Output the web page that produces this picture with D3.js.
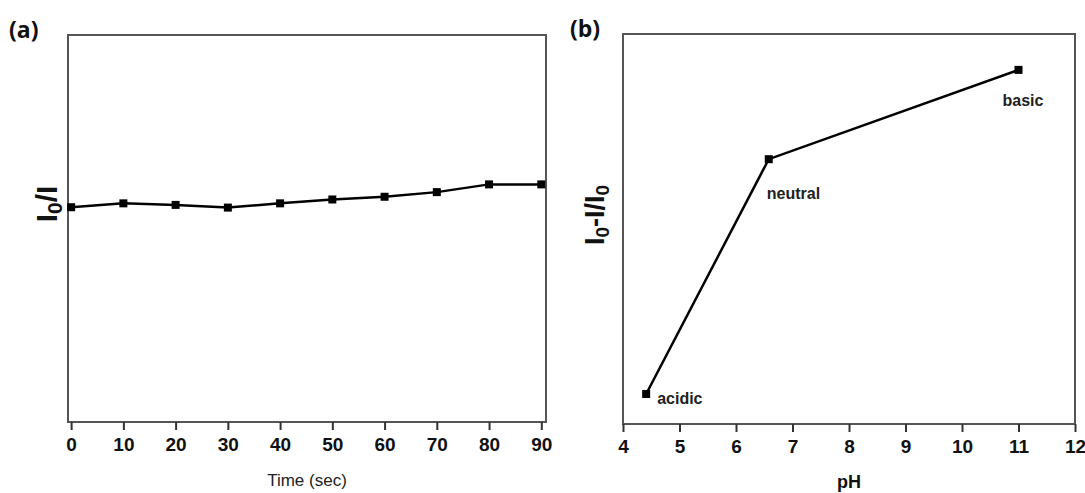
<!DOCTYPE html>
<html>
<head>
<meta charset="utf-8">
<script src="https://cdn.jsdelivr.net/npm/d3@7"></script>
<style>
  body { margin: 0; background: white; }
  svg { display: block; }
</style>
</head>
<body>
<div id="chart"></div>
<script>

// panel (a) - quenching vs time
var time_sec = [0, 10, 20, 30, 40, 50, 60, 70, 80, 90];
var ratio_a = [0.555, 0.565, 0.561, 0.554, 0.565, 0.575, 0.582, 0.594, 0.614, 0.614];
var time_ticks = [0, 10, 20, 30, 40, 50, 60, 70, 80, 90];

// panel (b) - response vs pH
var ph_vals = [4.41, 6.58, 11.0];
var ratio_b = [0.077, 0.679, 0.908];
var ph_names = ['acidic', 'neutral', 'basic'];
var ph_ticks = [4, 5, 6, 7, 8, 9, 10, 11, 12];

var width = 1085;
var height = 493;

var svg = d3.select('#chart')
  .append('svg')
  .attr('width', width)
  .attr('height', height);

svg.append('rect')
  .attr('width', width)
  .attr('height', height)
  .style('fill', 'white');

var frame_color = '#555';
var tick_font = '"Liberation Sans", Arial, sans-serif';

function make_panel(opts){

  var g = svg.append('g');

  // frame
  g.append('rect')
    .attr('x', opts.left)
    .attr('y', opts.top)
    .attr('width', opts.right - opts.left)
    .attr('height', opts.bottom - opts.top)
    .style('fill', 'none')
    .style('stroke', frame_color)
    .style('stroke-width', 2);

  var x_axis = d3.axisBottom(opts.x)
    .tickValues(opts.ticks)
    .tickSize(8)
    .tickPadding(8)
    .tickFormat(d3.format('d'));

  var axis_g = g.append('g')
    .attr('transform', 'translate(0,' + opts.bottom + ')')
    .call(x_axis);

  axis_g.select('.domain').remove();
  axis_g.selectAll('.tick line')
    .style('stroke', '#333')
    .style('stroke-width', 2);
  axis_g.selectAll('.tick text')
    .style('font-family', tick_font)
    .style('font-weight', 'bold')
    .style('font-size', '19px')
    .style('fill', '#111');

  var line = d3.line()
    .x(function(d){ return opts.x(d[0]); })
    .y(function(d){ return opts.y(d[1]); });

  var pts = opts.xs.map(function(d, i){ return [d, opts.ys[i]]; });

  g.append('path')
    .datum(pts)
    .attr('d', line)
    .style('fill', 'none')
    .style('stroke', '#000')
    .style('stroke-width', 2.5);

  var ms = opts.marker;
  g.selectAll('rect.marker')
    .data(pts)
    .enter()
    .append('rect')
    .classed('marker', true)
    .attr('x', function(d){ return opts.x(d[0]) - ms / 2; })
    .attr('y', function(d){ return opts.y(d[1]) - ms / 2; })
    .attr('width', ms)
    .attr('height', ms)
    .style('fill', '#000');

  // panel letter
  g.append('text')
    .text(opts.letter)
    .attr('x', opts.letter_x)
    .attr('y', opts.letter_y)
    .style('font-family', '"Open Sans", sans-serif')
    .style('font-weight', 'bold')
    .style('font-size', '23px')
    .style('fill', '#111');

  return g;
}

// panel (a)
var xa = d3.scaleLinear().domain([-0.6, 90.9]).range([68, 546]);
var ya = d3.scaleLinear().domain([0, 1]).range([422, 35]);

var panel_a = make_panel({
  left: 68, right: 546, top: 35, bottom: 422,
  x: xa, y: ya, ticks: time_ticks,
  xs: time_sec, ys: ratio_a, marker: 8,
  letter: '(a)', letter_x: 9, letter_y: 38
});

panel_a.append('text')
  .text('Time (sec)')
  .attr('x', (68 + 546) / 2)
  .attr('y', 486)
  .style('text-anchor', 'middle')
  .style('font-family', tick_font)
  .style('font-size', '17px')
  .style('fill', '#222');

var ya_label = panel_a.append('text')
  .attr('transform', 'translate(57,204) rotate(-90)')
  .style('text-anchor', 'middle')
  .style('font-family', tick_font)
  .style('font-weight', 'bold')
  .style('font-size', '30px')
  .style('fill', '#111');
ya_label.append('tspan').text('I');
ya_label.append('tspan').text('0').attr('dy', 5).style('font-size', '21px');
ya_label.append('tspan').text('/I').attr('dy', -5);

// panel (b)
var xb = d3.scaleLinear().domain([4, 12]).range([623, 1075]);
var yb = d3.scaleLinear().domain([0, 1]).range([424, 34]);

var panel_b = make_panel({
  left: 623, right: 1075, top: 34, bottom: 424,
  x: xb, y: yb, ticks: ph_ticks,
  xs: ph_vals, ys: ratio_b, marker: 8,
  letter: '(b)', letter_x: 570, letter_y: 37
});

panel_b.append('text')
  .text('pH')
  .attr('x', (623 + 1075) / 2)
  .attr('y', 488)
  .style('text-anchor', 'middle')
  .style('font-family', tick_font)
  .style('font-weight', 'bold')
  .style('font-size', '18px')
  .style('fill', '#111');

var yb_label = panel_b.append('text')
  .attr('transform', 'translate(604,215) rotate(-90)')
  .style('text-anchor', 'middle')
  .style('font-family', tick_font)
  .style('font-weight', 'bold')
  .style('font-size', '27px')
  .style('fill', '#111');
yb_label.append('tspan').text('I');
yb_label.append('tspan').text('0').attr('dy', 5).style('font-size', '19px');
yb_label.append('tspan').text('-I/I').attr('dy', -5);
yb_label.append('tspan').text('0').attr('dy', 5).style('font-size', '19px');

// point names next to markers
var name_offsets = [[11, 10], [-2, 40], [-16, 36]];
panel_b.selectAll('text.ph-name')
  .data(ph_names)
  .enter()
  .append('text')
  .classed('ph-name', true)
  .text(function(d){ return d; })
  .attr('x', function(d, i){ return xb(ph_vals[i]) + name_offsets[i][0]; })
  .attr('y', function(d, i){ return yb(ratio_b[i]) + name_offsets[i][1]; })
  .style('font-family', tick_font)
  .style('font-weight', 'bold')
  .style('font-size', '16px')
  .style('fill', '#222');

</script>
</body>
</html>
